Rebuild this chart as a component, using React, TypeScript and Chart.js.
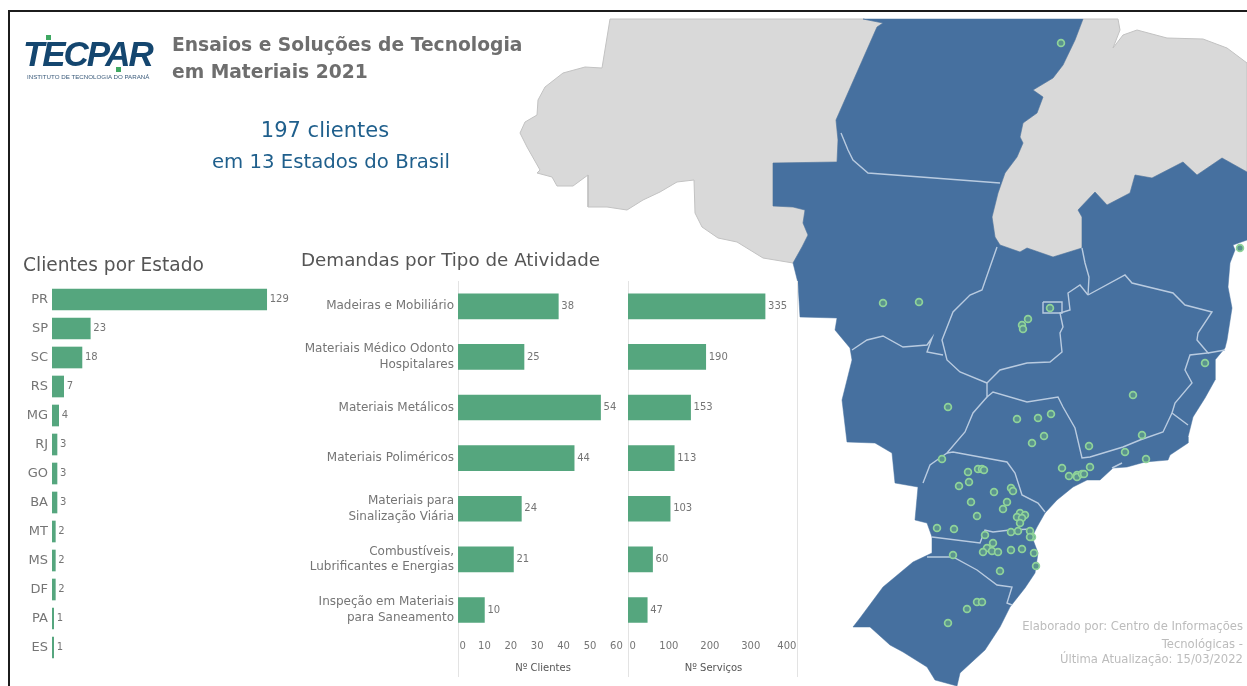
import React, { useEffect, useRef } from "react";
import { Chart, registerables } from "chart.js";

Chart.register(...registerables);

const FONT = "'DejaVu Sans', sans-serif";
const BAR = "#55a67e";
const TEXT = "#757575";

const estados = ["PR", "SP", "SC", "RS", "MG", "RJ", "GO", "BA", "MT", "MS", "DF", "PA", "ES"];
const clientesEstado = [129, 23, 18, 7, 4, 3, 3, 3, 2, 2, 2, 1, 1];

const atividades = [
  ["Madeiras e Mobiliário"],
  ["Materiais Médico Odonto", "Hospitalares"],
  ["Materiais Metálicos"],
  ["Materiais Poliméricos"],
  ["Materiais para", "Sinalização Viária"],
  ["Combustíveis,", "Lubrificantes e Energias"],
  ["Inspeção em Materiais", "para Saneamento"],
];
const clientesAtividade = [38, 25, 54, 44, 24, 21, 10];
const servicosAtividade = [335, 190, 153, 113, 103, 60, 47];

type P = [number, number];

const paraEast: P[] = [[1083, 19], [1075, 40], [1063, 65], [1053, 78], [1033, 90], [1043, 97], [1037, 113], [1023, 123], [1020, 137], [1023, 143], [1017, 157], [1005, 173], [998, 193], [992, 217], [995, 237], [1000, 245], [1020, 252], [1027, 248], [1053, 257], [1082, 248]];
const bahiaNorth: P[] = [[1082, 217], [1078, 210], [1095, 192], [1107, 205], [1130, 193], [1135, 175], [1152, 178], [1183, 162], [1197, 175], [1222, 158], [1247, 172]];
const westBoundary: P[] = [[793, 263], [802, 247], [808, 235], [803, 223], [805, 210], [793, 207], [773, 206], [773, 163], [837, 162], [838, 140], [836, 120], [877, 27], [883, 23], [863, 19]];
const grayWestRest: P[] = [[610, 19], [602, 68], [585, 67], [563, 73], [545, 87], [538, 100], [537, 115], [525, 122], [520, 133], [527, 147], [540, 170], [537, 173], [552, 177], [557, 186], [573, 186], [588, 175], [588, 207], [607, 207], [627, 210], [643, 200], [660, 192], [677, 182], [694, 180], [695, 213], [702, 227], [718, 238], [737, 242], [763, 258]];
const grayEastRest: P[] = [[1118, 19], [1120, 30], [1113, 48], [1123, 35], [1137, 30], [1167, 38], [1203, 39], [1227, 48], [1247, 63]];
const coastAndSouth: P[] = [[1247, 240], [1233, 245], [1235, 250], [1230, 263], [1228, 287], [1232, 308], [1227, 340], [1225, 348], [1215, 360], [1215, 380], [1205, 398], [1193, 417], [1188, 437], [1188, 443], [1170, 455], [1168, 460], [1145, 462], [1127, 467], [1113, 468], [1100, 480], [1087, 480], [1073, 487], [1057, 500], [1045, 513], [1037, 527], [1032, 537], [1038, 553], [1035, 573], [1025, 588], [1010, 607], [1000, 627], [985, 650], [960, 673], [957, 686], [935, 680], [927, 667], [903, 652], [890, 645], [870, 627], [853, 627], [860, 618], [883, 587], [913, 562], [932, 553], [932, 537], [927, 523], [915, 520], [918, 487], [895, 483], [892, 453], [875, 443], [847, 442], [842, 400], [852, 360], [850, 348], [835, 330], [837, 318], [800, 317], [798, 283]];

const stateLines: P[][] = [
  [[841, 133], [848, 150], [853, 160], [868, 173], [1000, 183]],
  [[997, 247], [990, 267], [982, 290], [970, 295], [953, 312], [942, 340], [947, 360], [960, 372], [987, 383]],
  [[852, 350], [867, 340], [883, 336], [903, 347], [927, 345], [932, 338], [927, 352], [943, 355]],
  [[987, 383], [1000, 370], [1027, 363], [1050, 362], [1062, 352], [1060, 333], [1063, 327], [1060, 313], [1070, 310], [1068, 293], [1080, 285], [1088, 295]],
  [[1082, 248], [1085, 263], [1089, 277], [1088, 295]],
  [[1088, 295], [1125, 275], [1132, 283], [1173, 293], [1185, 305], [1212, 312], [1198, 333], [1197, 340], [1208, 353], [1190, 355], [1185, 370], [1192, 383], [1175, 403], [1172, 413], [1188, 425]],
  [[1208, 353], [1225, 350]],
  [[1172, 413], [1163, 432], [1140, 440], [1123, 447], [1090, 457], [1082, 458], [1075, 428], [1063, 407], [1058, 397], [1027, 402], [993, 392], [987, 397], [987, 383]],
  [[987, 397], [973, 413], [965, 432], [947, 453], [930, 465], [923, 483]],
  [[947, 453], [953, 452], [980, 457], [1007, 462], [1015, 473], [1022, 495], [1038, 503], [1045, 512]],
  [[932, 537], [980, 543], [985, 530], [993, 532], [1010, 530], [1032, 529]],
  [[927, 557], [953, 557], [977, 570], [997, 585], [1012, 587], [1007, 603], [1012, 605]],
  [[1043, 302], [1062, 302], [1062, 313], [1043, 313], [1043, 302]],
  [[1122, 463], [1112, 468]],
];

const clientes: P[] = [[1061, 43], [883, 303], [919, 302], [1050, 308], [1028, 319], [1022, 325], [1023, 329], [1240, 248], [1205, 363], [1133, 395], [948, 407], [1017, 419], [1038, 418], [1051, 414], [1044, 436], [1032, 443], [1089, 446], [1142, 435], [1125, 452], [1146, 459], [942, 459], [968, 472], [978, 469], [982, 469], [984, 470], [969, 482], [959, 486], [994, 492], [1011, 488], [1013, 491], [971, 502], [1007, 502], [1003, 509], [977, 516], [1062, 468], [1069, 476], [1077, 475], [1077, 477], [1082, 474], [1084, 474], [1090, 467], [1020, 513], [1025, 515], [1017, 517], [1022, 518], [1020, 523], [937, 528], [954, 529], [985, 535], [1011, 532], [1018, 531], [1030, 531], [1032, 537], [1030, 537], [993, 543], [987, 548], [983, 552], [992, 551], [998, 552], [1011, 550], [1022, 549], [1034, 553], [1036, 566], [1000, 571], [953, 555], [977, 602], [982, 602], [967, 609], [948, 623]];

const toXY = (pts: P[]) => pts.map(([x, y]) => ({ x, y }));
const closed = (pts: P[]) => [...pts, pts[0]];

const shape = (pts: P[], fillColor: string, stroke: string, w = 1) => ({
  type: "scatter" as const,
  data: toXY(closed(pts)),
  showLine: true,
  fill: "shape",
  backgroundColor: fillColor,
  borderColor: stroke,
  borderWidth: w,
  pointRadius: 0,
  tension: 0,
});

const barLabels = (fontSize: number, gap: number) => ({
  id: "barLabels",
  afterDatasetsDraw(chart: any) {
    const { ctx } = chart;
    ctx.save();
    ctx.font = `${fontSize}px ${FONT}`;
    ctx.fillStyle = TEXT;
    ctx.textAlign = "left";
    ctx.textBaseline = "middle";
    chart.getDatasetMeta(0).data.forEach((el: any, i: number) => {
      ctx.fillText(String(chart.data.datasets[0].data[i]), el.x + gap, el.y);
    });
    ctx.restore();
  },
});

const rules = (values: number[]) => ({
  id: "rules",
  beforeDatasetsDraw(chart: any) {
    const { ctx, scales, height } = chart;
    ctx.save();
    ctx.strokeStyle = "#e3e3e3";
    ctx.lineWidth = 1;
    values.forEach((v) => {
      const x = Math.floor(scales.x.getPixelForValue(v)) + 0.5;
      ctx.beginPath();
      ctx.moveTo(x, 0);
      ctx.lineTo(x, height);
      ctx.stroke();
    });
    ctx.restore();
  },
});

const noPadding = (s: any) => {
  s.paddingTop = 0;
  s.paddingBottom = 0;
  s.paddingLeft = 0;
  s.paddingRight = 0;
};

function MapChart() {
  const ref = useRef<HTMLCanvasElement>(null);
  useEffect(() => {
    const chart = new Chart(ref.current!, {
      type: "scatter",
      data: {
        datasets: [
          {
            type: "scatter",
            data: toXY(clientes),
            pointRadius: 3.4,
            pointBackgroundColor: "#5a938f",
            pointBorderColor: "#8fd39a",
            pointBorderWidth: 1.7,
            showLine: false,
            order: 0,
          },
          ...stateLines.map((l) => ({
            type: "scatter" as const,
            data: toXY(l),
            showLine: true,
            fill: false,
            borderColor: "#b9cbe0",
            borderWidth: 1.4,
            pointRadius: 0,
            order: 1,
          })),
          { ...shape([...coastAndSouth, ...westBoundary, ...paraEast, ...bahiaNorth], "#46709f", "#46709f", 0.5), order: 2 },
          { ...shape([...westBoundary, ...grayWestRest], "#d9d9d9", "#c2c2c2"), order: 3 },
          { ...shape([...paraEast, ...bahiaNorth, ...grayEastRest.slice().reverse()], "#d9d9d9", "#c2c2c2"), order: 3 },
        ] as any,
      },
      options: {
        animation: false,
        responsive: false,
        events: [],
        layout: { padding: 0, autoPadding: false },
        plugins: { legend: { display: false }, tooltip: { enabled: false } },
        scales: {
          x: { type: "linear", min: 0, max: 1247, display: false },
          y: { type: "linear", min: 0, max: 686, reverse: true, display: false },
        },
      } as any,
    });
    return () => chart.destroy();
  }, []);
  return <canvas ref={ref} width={1247} height={686} style={{ position: "absolute", left: 0, top: 0 }} />;
}

function BarChart(props: {
  labels: any[];
  values: number[];
  left: number;
  top: number;
  width: number;
  height: number;
  yWidth: number;
  max: number;
  thickness: number;
  tickSize: number;
  labelSize: number;
  labelGap: number;
  xTitle?: string;
  stepSize?: number;
  xHeight?: number;
  showY: boolean;
  ruleValues: number[];
  tickFormat?: (v: number) => string;
}) {
  const ref = useRef<HTMLCanvasElement>(null);
  const p = props;
  useEffect(() => {
    const chart = new Chart(ref.current!, {
      type: "bar",
      data: {
        labels: p.labels,
        datasets: [{ data: p.values, backgroundColor: BAR, barThickness: p.thickness }],
      },
      options: {
        indexAxis: "y",
        animation: false,
        responsive: false,
        events: [],
        layout: { padding: 0, autoPadding: false },
        plugins: { legend: { display: false }, tooltip: { enabled: false } },
        scales: {
          x: p.xTitle
            ? {
                min: 0,
                max: p.max,
                grid: { display: false, drawTicks: false },
                border: { display: false },
                afterFit(s: any) { s.height = p.xHeight; noPadding(s); },
                ticks: {
                  stepSize: p.stepSize,
                  includeBounds: false,
                  autoSkip: false,
                  maxRotation: 0,
                  padding: 5,
                  color: TEXT,
                  font: { family: FONT, size: 10 },
                  callback: (v: any) => (p.tickFormat ? p.tickFormat(Number(v)) : String(v)),
                },
                title: {
                  display: true,
                  text: p.xTitle,
                  color: "#555",
                  font: { family: FONT, size: 10 },
                  padding: { top: 4, bottom: 3 },
                },
              }
            : { min: 0, max: p.max, display: false, afterFit: noPadding },
          y: {
            display: p.showY,
            grid: { display: false, drawTicks: false },
            border: { display: false },
            afterFit(s: any) { s.width = p.yWidth; noPadding(s); },
            ticks: {
              autoSkip: false,
              padding: 4,
              color: TEXT,
              font: { family: FONT, size: p.tickSize, lineHeight: 1.33 },
            },
          },
        },
      } as any,
      plugins: [barLabels(p.labelSize, p.labelGap), rules(p.ruleValues)],
    });
    return () => chart.destroy();
  }, []);
  return (
    <canvas
      ref={ref}
      width={p.width}
      height={p.height}
      style={{ position: "absolute", left: p.left, top: p.top }}
    />
  );
}

const textBase: React.CSSProperties = { position: "absolute", fontFamily: FONT, whiteSpace: "nowrap", lineHeight: 1 };
const sans = "'Liberation Sans', sans-serif";

export default function App() {
  return (
    <div style={{ position: "absolute", left: 0, top: 0, width: 1247, height: 686, overflow: "hidden", background: "#fff", filter: "blur(0.45px)" }}>
      <MapChart />
      <div style={{ position: "absolute", left: 8, top: 10, width: 1400, height: 900, border: "2px solid #1c1c1c" }} />

      <div style={{ ...textBase, left: 23, top: 36, fontFamily: sans, fontWeight: 700, fontStyle: "italic", fontSize: 35, letterSpacing: -2.1, color: "#14466f" }}>TECPAR</div>
      <div style={{ position: "absolute", left: 46, top: 35, width: 5, height: 5, background: "#3fa862" }} />
      <div style={{ position: "absolute", left: 116, top: 67, width: 5, height: 5, background: "#3fa862" }} />
      <div style={{ ...textBase, left: 27, top: 74, fontFamily: sans, fontSize: 6.2, color: "#3a5a7a" }}>INSTITUTO DE TECNOLOGIA DO PARANÁ</div>

      <div style={{ ...textBase, left: 172, top: 36, fontSize: 18.7, fontWeight: 700, color: "#6e6e6e" }}>Ensaios e Soluções de Tecnologia</div>
      <div style={{ ...textBase, left: 172, top: 63, fontSize: 18.7, fontWeight: 700, color: "#6e6e6e" }}>em Materiais 2021</div>

      <div style={{ ...textBase, left: 125, width: 400, textAlign: "center", top: 120, fontSize: 21, color: "#1f5f8c" }}>197 clientes</div>
      <div style={{ ...textBase, left: 131, width: 400, textAlign: "center", top: 152, fontSize: 19.7, color: "#1f5f8c" }}>em 13 Estados do Brasil</div>

      <div style={{ ...textBase, left: 23, top: 256, fontSize: 18.6, color: "#555" }}>Clientes por Estado</div>
      <div style={{ ...textBase, left: 301, top: 251, fontSize: 18.3, color: "#555" }}>Demandas por Tipo de Atividade</div>

      <BarChart labels={estados} values={clientesEstado} left={10} top={285} width={280} height={377} yWidth={42} max={143} thickness={21} tickSize={13} labelSize={10} labelGap={3} showY ruleValues={[]} />
      <BarChart
        labels={atividades}
        values={clientesAtividade}
        left={296}
        top={281}
        width={332}
        height={396}
        yWidth={162}
        max={64.4}
        thickness={25}
        tickSize={12}
        labelSize={10}
        labelGap={3}
        showY
        xTitle="Nº Clientes"
        stepSize={10}
        xHeight={41.7}
        ruleValues={[0]}
        tickFormat={(v) => (v === 0 ? "   0" : String(v))}
      />
      <BarChart
        labels={atividades}
        values={servicosAtividade}
        left={628}
        top={281}
        width={171}
        height={396}
        yWidth={0}
        max={418}
        thickness={25}
        tickSize={11}
        labelSize={10}
        labelGap={3}
        showY={false}
        xTitle="Nº Serviços"
        stepSize={100}
        xHeight={41.7}
        ruleValues={[0, 414]}
        tickFormat={(v) => (v === 0 ? "   0" : v === 400 ? "400   " : String(v))}
      />

      <div style={{ ...textBase, right: 4, top: 621, fontSize: 11.6, color: "#bcbcbc" }}>Elaborado por: Centro de Informações</div>
      <div style={{ ...textBase, right: 4, top: 639, fontSize: 11.6, color: "#bcbcbc" }}>Tecnológicas -</div>
      <div style={{ ...textBase, right: 4, top: 654, fontSize: 11.6, color: "#bcbcbc" }}>Última Atualização: 15/03/2022</div>
    </div>
  );
}
